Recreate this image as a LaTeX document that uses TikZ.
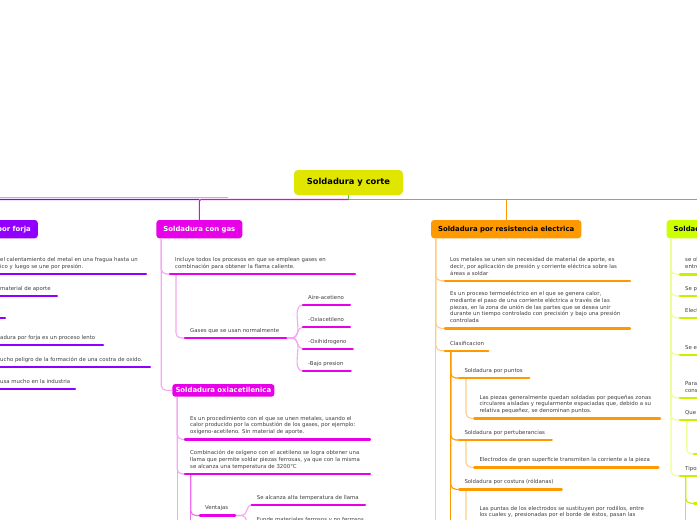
\documentclass[tikz,border=0pt]{standalone}
\usepackage{fontspec}
\setmainfont{DejaVu Sans}
\definecolor{cpur}{RGB}{145,0,255}
\definecolor{cpurl}{RGB}{204,160,255}
\definecolor{cmag}{RGB}{232,0,232}
\definecolor{cmagl}{RGB}{246,166,246}
\definecolor{cmagm}{RGB}{240,110,240}
\definecolor{cora}{RGB}{255,153,0}
\definecolor{cOrL}{RGB}{255,206,130}
\definecolor{clim}{RGB}{204,255,0}
\definecolor{climu}{RGB}{200,240,0}
\definecolor{climl}{RGB}{234,255,150}
\definecolor{cyel}{RGB}{224,230,0}
\definecolor{cgrn}{RGB}{80,214,40}
\definecolor{ctxt}{RGB}{64,64,64}
\tikzset{
  topic/.style={rounded corners=3pt, minimum height=18.3pt, inner xsep=7pt, inner ysep=0pt,
    font=\bfseries\fontsize{6.9}{8}\selectfont},
  tx/.style={anchor=south west, inner sep=0pt, align=left, text=ctxt,
    font=\fontsize{5.4}{6.8}\selectfont,
    execute at begin node=\strut, execute at end node=\strut},
  ul/.style={line width=2.4pt, line cap=round},
  cn/.style={line width=1.1pt, rounded corners=5pt},
  ln/.style={line width=1.1pt}
}
\begin{document}
\begin{tikzpicture}[x=1pt,y=-1pt]
\useasboundingbox (0,0) rectangle (697,520);
\fill[white] (0,0) rectangle (697,520);
\clip (0,0) rectangle (697,520);

% ---------- topics
\node[fill=cyel, rounded corners=4pt, minimum width=109pt, minimum height=25pt, inner sep=0pt,
  font=\bfseries\fontsize{8.3}{10}\selectfont] (ctr) at (348.5,182.5) {Soldadura y corte};
\node[topic, fill=cpur, text=white, anchor=east] (forja) at (38,229.15) {Soldadura por forja};
\node[topic, fill=cmag, text=white] (gas) at (199.35,229.15) {Soldadura con gas};
\node[topic, fill=cora, text=black] (res) at (506.2,229.15) {Soldadura por resistencia electrica};
\node[topic, fill=clim, text=black, anchor=west] (lime) at (666.5,229.15) {Soldadura por arco electrico};
\node[topic, fill=cmag, text=white, minimum height=12.7pt, inner xsep=3.2pt] (oxi) at (223.35,390.35) {Soldadura oxiacetilenica};

% ---------- coordinates
\coordinate (J) at (348.5,199.5);
\coordinate (lavA) at (228,197.8); \coordinate (lavB) at (-20,197.8);
\coordinate (rgt) at (740,199.5);
% forja
\coordinate (f1a) at (-15,274);   \coordinate (f1b) at (146,274);
\coordinate (f2a) at (-15,296);   \coordinate (f2b) at (57,296);
\coordinate (f3a) at (-15,318);   \coordinate (f3b) at (5,318);
\coordinate (f4a) at (-15,345);   \coordinate (f4b) at (103,345);
\coordinate (f5a) at (-15,367);   \coordinate (f5b) at (150,367);
\coordinate (f6a) at (-15,389);   \coordinate (f6b) at (75,389);
% gas
\coordinate (g1a) at (170,274);   \coordinate (g1b) at (355,274);
\coordinate (g2a) at (185,338);   \coordinate (g2b) at (286,338);
\coordinate (gaa) at (303,305);   \coordinate (gab) at (350,305);
\coordinate (gba) at (303,327);   \coordinate (gbb) at (350,327);
\coordinate (gca) at (303,349);   \coordinate (gcb) at (352.7,349);
\coordinate (gda) at (303,371);   \coordinate (gdb) at (350.7,371);
% oxi
\coordinate (o1a) at (185,439.3); \coordinate (o1b) at (370,439.3);
\coordinate (o2a) at (185,474);   \coordinate (o2b) at (370,474);
\coordinate (va) at (200,515.5);  \coordinate (vb) at (235,515.5);
\coordinate (v1a) at (251.7,504.7); \coordinate (v1b) at (365,504.7);
\coordinate (v2a) at (251.7,527); \coordinate (v2b) at (370,527);
% resistencia
\coordinate (r1a) at (445,280.7); \coordinate (r1b) at (630,280.7);
\coordinate (r2a) at (445,328.3); \coordinate (r2b) at (630,328.3);
\coordinate (r3a) at (445,350.7); \coordinate (r3b) at (488.3,350.7);
\coordinate (p1a) at (459.3,378); \coordinate (p1b) at (529.3,378);
\coordinate (q1a) at (474.3,418.3); \coordinate (q1b) at (660,418.3);
\coordinate (p2a) at (459.3,440); \coordinate (p2b) at (551.7,440);
\coordinate (q2a) at (474.3,467.3); \coordinate (q2b) at (658.3,467.3);
\coordinate (p3a) at (459.3,489.3); \coordinate (p3b) at (561.7,489.3);
\coordinate (q3a) at (474.3,529); \coordinate (q3b) at (660,529);
% lime
\coordinate (l1a) at (680,274.3); \coordinate (l1b) at (760,274.3);
\coordinate (l2a) at (680,296);   \coordinate (l2b) at (760,296);
\coordinate (l3a) at (680,317.7); \coordinate (l3b) at (760,317.7);
\coordinate (l4a) at (680,354.7); \coordinate (l4b) at (760,354.7);
\coordinate (l5a) at (680,397.7); \coordinate (l5b) at (760,397.7);
\coordinate (l6a) at (680,420);   \coordinate (l6b) at (760,420);
\coordinate (m6a) at (694,454);   \coordinate (m6b) at (760,454);
\coordinate (l7a) at (680,475.7); \coordinate (l7b) at (760,475.7);
\coordinate (m7a) at (694,503.3); \coordinate (m7b) at (760,503.3);

% ---------- main connectors
\draw[cpurl, ln] (lavA) -- (lavB);
\draw[cgrn, ln] (ctr.south) -- (J);
\draw[cgrn, ln] (J) -- (rgt);
\draw[cmag, ln, rounded corners=2pt] (J) -| (gas.north);
\draw[cpur, ln, rounded corners=2pt] (gas.north |- J) -| (forja.north);
\draw[cora, ln] (res.north |- J) -- (res.north);

% ---------- branch connectors
\foreach \t in {f1a,f2a,f3a,f4a,f5a,f6a}
  \draw[cn, cpurl] ([xshift=5pt]forja.south west) |- (\t);
\draw[cn, cmagl] ([xshift=5pt]gas.south west) |- (g1a);
\draw[cn, cmagl] ([xshift=5pt]gas.south west) |- (oxi.west);
\draw[cn, cmagl] ([xshift=6pt]g1a) |- (g2a);
\foreach \t in {gaa,gba,gca,gda}
  \draw[cmagl, ln] (g2b) -- ([xshift=6pt]g2b) to[out=0,in=180] (\t);
\foreach \t in {o1a,o2a}
  \draw[cn, cmagl] ([xshift=5pt]oxi.south west) |- (\t);
\draw[cmagl, ln] ([xshift=5pt]oxi.south west) -- ++(0,140);
\draw[cn, cmagm] ([xshift=5.7pt]o2a) |- (va);
\draw[cmagm, ln] ([xshift=5.7pt]o2a) -- ++(0,60);
\foreach \t in {v1a,v2a}
  \draw[cmagl, ln] (vb) -- ([xshift=7pt]vb) to[out=0,in=180] (\t);
\foreach \t in {r1a,r2a,r3a}
  \draw[cn, cOrL] ([xshift=5pt]res.south west) |- (\t);
\draw[cOrL, ln] ([xshift=5pt]res.south west) -- ++(0,300);
\foreach \t in {p1a,p2a,p3a}
  \draw[cn, cora] ([xshift=5.7pt]r3a) |- (\t);
\draw[cora, ln] ([xshift=5.7pt]r3a) -- ++(0,200);
\draw[cn, cOrL] ([xshift=6.7pt]p1a) |- (q1a);
\draw[cn, cOrL] ([xshift=6.7pt]p2a) |- (q2a);
\draw[cn, cOrL] ([xshift=6.7pt]p3a) |- (q3a);
\foreach \t in {l1a,l2a,l3a,l4a,l5a,l6a,l7a}
  \draw[cn, climl] ([xshift=4.5pt]lime.south west) |- (\t);
\draw[cn, climl] ([xshift=6.7pt]l6a) |- (m6a);
\draw[cn, climu] ([xshift=5.7pt]l7a) |- (m7a);
\draw[climu, ln] ([xshift=5.7pt]l7a) -- ++(0,60);

% ---------- underlines
\foreach \a/\b/\c in {f1a/f1b/cpur,f2a/f2b/cpur,f3a/f3b/cpur,f4a/f4b/cpur,f5a/f5b/cpur,f6a/f6b/cpur,
  g1a/g1b/cmag,g2a/g2b/cmag,gaa/gab/cmag,gba/gbb/cmag,gca/gcb/cmag,gda/gdb/cmag,
  o1a/o1b/cmag,o2a/o2b/cmag,va/vb/cmag,v1a/v1b/cmag,v2a/v2b/cmag,
  r1a/r1b/cora,r2a/r2b/cora,r3a/r3b/cora,p1a/p1b/cora,q1a/q1b/cora,p2a/p2b/cora,q2a/q2b/cora,p3a/p3b/cora,q3a/q3b/cora,
  l1a/l1b/climu,l2a/l2b/climu,l3a/l3b/climu,l4a/l4b/climu,l5a/l5b/climu,l6a/l6b/climu,m6a/m6b/climu,l7a/l7b/climu,m7a/m7b/climu}
  \draw[ul, \c] (\a) -- (\b);

% ---------- texts
\node[tx] (f1) at ([shift={(15,-3.3)}]f1a) {el calentamiento del metal en una fragua hasta un\\ico y luego se une por presión.};
\node[tx] (f2) at ([shift={(15,-3.3)}]f2a) {material de aporte};
\node[tx] (f4) at ([shift={(15,-3.3)}]f4a) {adura por forja es un proceso lento};
\node[tx] (f5) at ([shift={(15,-3.3)}]f5a) {ucho peligro de la formación de una costra de oxido.};
\node[tx] (f6) at ([shift={(15,-3.3)}]f6a) {usa mucho en la industria};

\node[tx] (g1) at ([shift={(5,-3.3)}]g1a) {Incluye todos los procesos en que se emplean gases en\\combinación para obtener la flama caliente.};
\node[tx] (g2) at ([shift={(5,-3.3)}]g2a) {Gases que se usan normalmente};
\node[tx] (ga) at ([shift={(5,-3.3)}]gaa) {Aire-acetieno};
\node[tx] (gb) at ([shift={(5,-3.3)}]gba) {-Oxiacetileno};
\node[tx] (gc) at ([shift={(5,-3.3)}]gca) {-Oxihidrogeno};
\node[tx] (gd) at ([shift={(5,-3.3)}]gda) {-Bajo presion};

\node[tx] (o1) at ([shift={(5,-3.3)}]o1a) {Es un procedimiento con el que se unen metales, usando el\\calor producido por la combustión de los gases, por ejemplo:\\oxígeno-acetileno. Sin material de aporte.};
\node[tx] (o2) at ([shift={(5,-3.3)}]o2a) {Combinación de oxígeno con el acetileno se logra obtener una\\llama que permite soldar piezas ferrosas, ya que con la misma\\se alcanza una temperatura de 3200°C};
\node[tx] (v) at ([shift={(5,-3.3)}]va) {Ventajas};
\node[tx] (v1) at ([shift={(5,-3.3)}]v1a) {Se alcanza alta temperatura de llama};
\node[tx] (v2) at ([shift={(5,-3.3)}]v2a) {Funde materiales ferrosos y no ferrosos};

\node[tx] (r1) at ([shift={(5,-3.3)}]r1a) {Los metales se unen sin necesidad de material de aporte, es\\decir, por aplicación de presión y corriente eléctrica sobre las\\áreas a soldar};
\node[tx] (r2) at ([shift={(5,-3.3)}]r2a) {Es un proceso termoeléctrico en el que se genera calor,\\mediante el paso de una corriente eléctrica a través de las\\piezas, en la zona de unión de las partes que se desea unir\\durante un tiempo controlado con precisión y bajo una presión\\controlada};
\node[tx] (r3) at ([shift={(5,-3.3)}]r3a) {Clasificacion};
\node[tx] (p1) at ([shift={(5,-3.3)}]p1a) {Soldadura por puntos};
\node[tx] (q1) at ([shift={(5,-3.3)}]q1a) {Las piezas generalmente quedan soldadas por pequeñas zonas\\circulares aisladas y regularmente espaciadas que, debido a su\\relativa pequeñez, se denominan puntos.};
\node[tx] (p2) at ([shift={(5,-3.3)}]p2a) {Soldadura por pertuberancias};
\node[tx] (q2) at ([shift={(5,-3.3)}]q2a) {Electrodos de gran superficie transmiten la corriente a la pieza};
\node[tx] (p3) at ([shift={(5,-3.3)}]p3a) {Soldadura por costura (róldanas)};
\node[tx] (q3) at ([shift={(5,-9.8)}]q3a) {Las puntas de los electrodos se sustituyen por rodillos, entre\\los cuales y, presionadas por el borde de éstos, pasan las};

\node[tx] (l1) at ([shift={(5,-3.3)}]l1a) {se ob\\entre};
\node[tx] (l2) at ([shift={(5,-3.3)}]l2a) {Se pr};
\node[tx] (l3) at ([shift={(5,-3.3)}]l3a) {Elect};
\node[tx] (l4) at ([shift={(5,-3.3)}]l4a) {Se em};
\node[tx] (l5) at ([shift={(5,-3.3)}]l5a) {Para\\cons};
\node[tx] (l6) at ([shift={(5,-3.3)}]l6a) {Que};
\node[tx] (l7) at ([shift={(5,-3.3)}]l7a) {Tipos};
\end{tikzpicture}
\end{document}
